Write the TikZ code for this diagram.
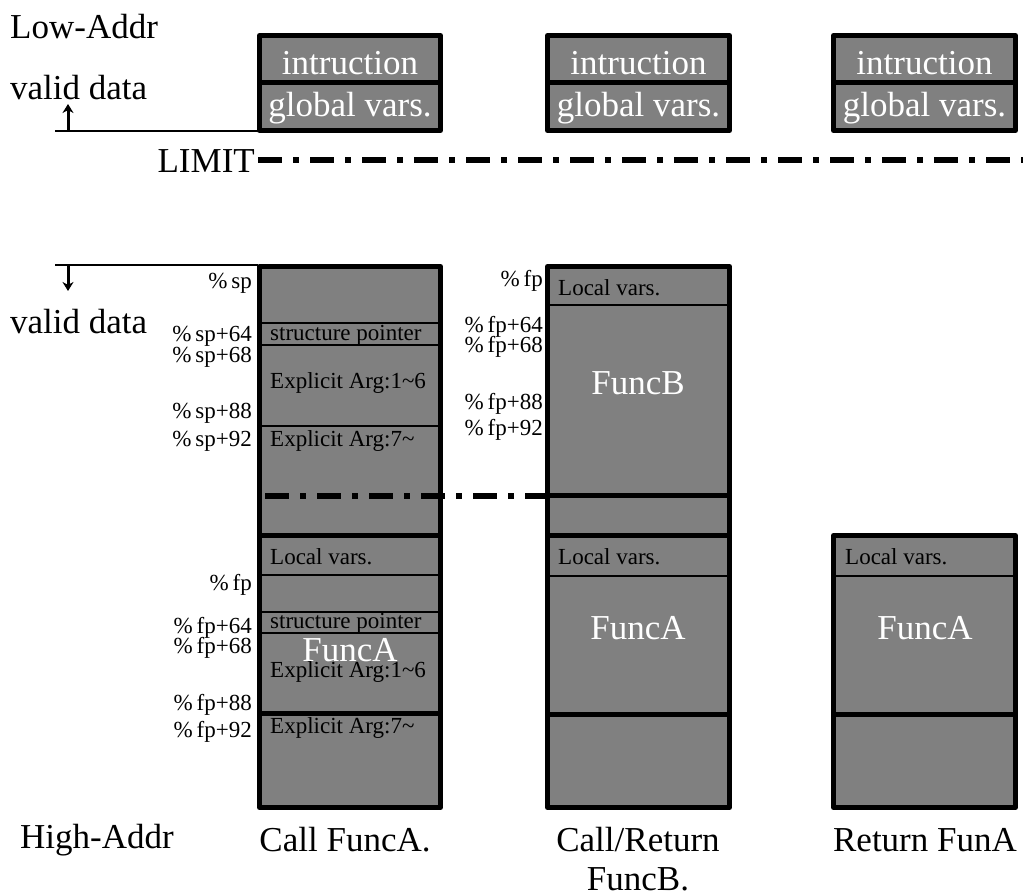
\documentclass[tikz,border=0pt]{standalone}
\usepackage{fontspec}
\setmainfont{Liberation Serif}
\usetikzlibrary{arrows.meta}
\definecolor{boxgray}{RGB}{128,128,128}
\begin{document}
\begin{tikzpicture}[x=1pt,y=-1pt,
  cellfill/.style={fill=boxgray},
  border/.style={draw=black, line width=5pt, line join=round},
  thindiv/.style={line width=1.8pt},
  thickdiv/.style={line width=5pt},
  big/.style={font=\fontsize{35}{38}\selectfont, inner sep=0pt},
  small/.style={font=\fontsize{23}{25}\selectfont, inner sep=0pt},
  lbl/.style={small, anchor=east},
  intext/.style={small, anchor=west},
  wtxt/.style={big, text=white},
  dashdot/.style={line width=6pt, dash pattern=on 24pt off 11pt on 6pt off 11pt},
  guide/.style={line width=1.8pt},
  arr/.style={line width=3pt, -{Stealth[length=9pt,width=11pt]}}
]
\useasboundingbox (0,0) rectangle (1023,896);

% ---------- top boxes ----------
\foreach \xl/\xr/\n in {259.5/440.5/a, 547.5/729.5/b, 833.5/1015.5/c}{
  \fill[cellfill] (\xl,35.5) rectangle (\xr,130.5);
  \draw[thickdiv] (\xl,83) -- (\xr,83);
  \draw[border] (\xl,35.5) rectangle (\xr,130.5);
  \node[wtxt] (instr\n) at ({(\xl+\xr)/2},63) {intruction};
  \node[wtxt] (glob\n) at ({(\xl+\xr)/2},108) {global vars.};
}

% ---------- left texts ----------
\node[big, anchor=west] (lowaddr) at (10,27) {Low-Addr};
\node[big, anchor=west] (valid1) at (10,88) {valid data};
\node[big, anchor=west] (valid2) at (10,322) {valid data};
\node[big, anchor=west] (highaddr) at (20,840) {High-Addr};
\node[big, anchor=east] (limit) at (255,161) {LIMIT};

% guide lines and arrows
\coordinate (g1a) at (55,131);
\coordinate (g1b) at (258,131);
\coordinate (u1) at (68,131);
\coordinate (u2) at (68,104);
\draw[guide] (g1a) -- (g1b);
\draw[arr] (u1) -- (u2);

\coordinate (g2a) at (55,265);
\coordinate (g2b) at (258,265);
\coordinate (d1) at (68,265);
\coordinate (d2) at (68,291);
\draw[guide] (g2a) -- (g2b);
\draw[arr] (d1) -- (d2);

% LIMIT line
\coordinate (lim1) at (258,160);
\coordinate (lim2) at (1023,160);
\draw[dashdot] (lim1) -- (lim2);

% ---------- column 1 stack ----------
\fill[cellfill] (259.5,266.5) rectangle (440.5,807.5);
\foreach \y in {323,345,426,575,612,633}{\draw[thindiv] (259.5,\y) -- (440.5,\y);}
\foreach \y in {535,713}{\draw[thickdiv] (259.5,\y) -- (440.5,\y);}
\coordinate (mid1) at (261,496);
\coordinate (mid2) at (547,496);
\draw[dashdot, dash phase=-4pt] (mid1) -- (mid2);
\draw[border] (259.5,266.5) rectangle (440.5,807.5);

\node[intext] (c1sp) at (270,335) {structure pointer};
\node[intext] (c1e1) at (270,383) {Explicit Arg:1\textasciitilde6};
\node[intext] (c1e7) at (270,441) {Explicit Arg:7\textasciitilde};
\node[intext] (c1lv) at (270,557) {Local vars.};
\node[intext] (c1sp2) at (270,623) {structure pointer};
\node[wtxt] (c1fa) at (350,650) {FuncA};
\node[intext] (c1e12) at (270,672) {Explicit Arg:1\textasciitilde6};
\node[intext] (c1e72) at (270,728) {Explicit Arg:7\textasciitilde};

\node[lbl] (s0) at (252,283) {\%\,sp};
\node[lbl] (s64) at (252,336) {\%\,sp+64};
\node[lbl] (s68) at (252,357) {\%\,sp+68};
\node[lbl] (s88) at (252,413) {\%\,sp+88};
\node[lbl] (s92) at (252,441) {\%\,sp+92};
\node[lbl] (f0) at (252,585) {\%\,fp};
\node[lbl] (f64) at (252,628) {\%\,fp+64};
\node[lbl] (f68) at (252,648) {\%\,fp+68};
\node[lbl] (f88) at (252,705) {\%\,fp+88};
\node[lbl] (f92) at (252,732) {\%\,fp+92};

% ---------- column 2 stack ----------
\fill[cellfill] (547.5,266.5) rectangle (729.5,807.5);
\foreach \y in {305,576}{\draw[thindiv] (547.5,\y) -- (729.5,\y);}
\foreach \y in {495,535,714}{\draw[thickdiv] (547.5,\y) -- (729.5,\y);}
\draw[border] (547.5,266.5) rectangle (729.5,807.5);

\node[intext] (c2lv) at (558,288) {Local vars.};
\node[wtxt] (c2fb) at (638,383) {FuncB};
\node[intext] (c2lv2) at (558,557) {Local vars.};
\node[wtxt] (c2fa) at (638,628) {FuncA};

\node[lbl] (bf0) at (543,281) {\%\,fp};
\node[lbl] (bf64) at (543,327) {\%\,fp+64};
\node[lbl] (bf68) at (543,347) {\%\,fp+68};
\node[lbl] (bf88) at (543,404) {\%\,fp+88};
\node[lbl] (bf92) at (543,430) {\%\,fp+92};

% ---------- column 3 stack ----------
\fill[cellfill] (833.5,535.5) rectangle (1015.5,807.5);
\draw[thindiv] (833.5,576) -- (1015.5,576);
\draw[thickdiv] (833.5,714) -- (1015.5,714);
\draw[border] (833.5,535.5) rectangle (1015.5,807.5);
\node[intext] (c3lv) at (845,557) {Local vars.};
\node[wtxt] (c3fa) at (925,628) {FuncA};

% ---------- captions ----------
\node[big] (cap1) at (345,840) {Call FuncA.};
\node[big] (cap2a) at (638,840) {Call/Return};
\node[big] (cap2b) at (638,879) {FuncB.};
\node[big] (cap3) at (925,840) {Return FunA};
\end{tikzpicture}
\end{document}
